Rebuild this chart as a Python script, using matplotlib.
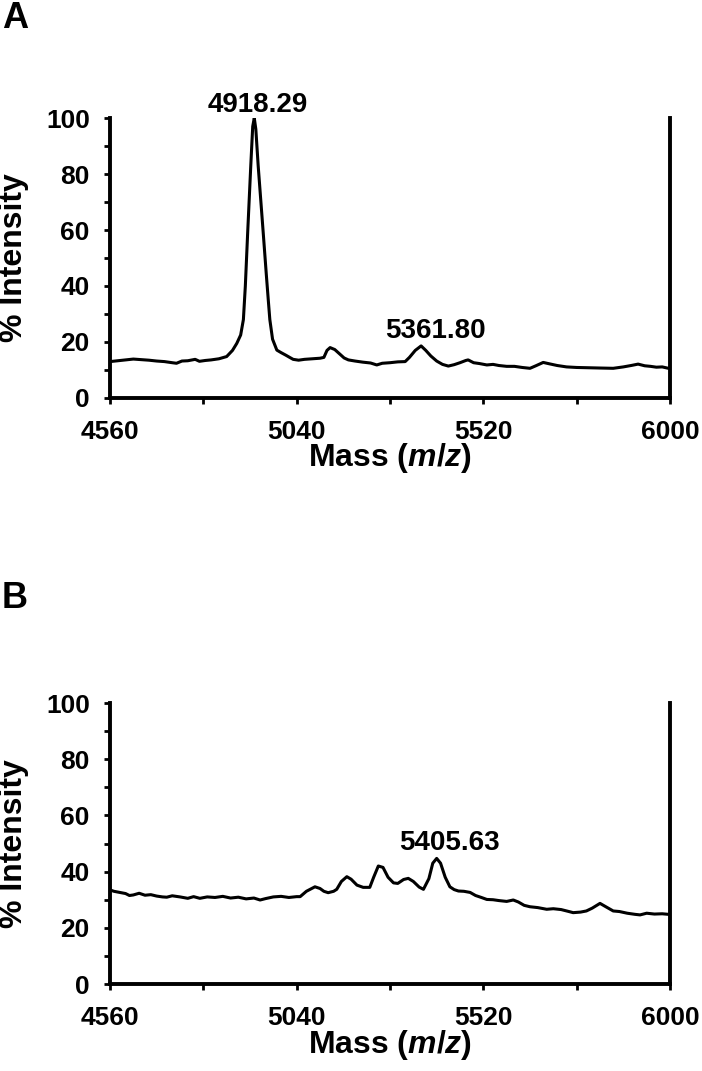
import matplotlib
matplotlib.use("Agg")
import matplotlib.pyplot as plt
from matplotlib.ticker import FixedLocator

# Fonts: Arial-like bold everywhere, italic m/z via mathtext
plt.rcParams['font.family'] = ['Liberation Sans', 'DejaVu Sans']
plt.rcParams['font.weight'] = 'bold'
plt.rcParams['mathtext.fontset'] = 'custom'
plt.rcParams['mathtext.rm'] = 'Liberation Sans:bold'
plt.rcParams['mathtext.it'] = 'Liberation Sans:bold:italic'

# Axis ticks
x_major = [4560, 5040, 5520, 6000]
x_minor = [4800, 5280, 5760]
y_major = [0, 20, 40, 60, 80, 100]
y_minor = [10, 30, 50, 70, 90]

# Panel A spectrum (m/z, % intensity)
mass_a = [4560, 4580, 4600, 4620, 4640, 4660, 4680, 4700, 4720, 4731,
          4745, 4760, 4779, 4790, 4805, 4820, 4840, 4860, 4875, 4886,
          4896, 4903, 4908, 4914, 4922, 4927, 4931, 4935, 4941, 4954,
          4962, 4967, 4971, 4978, 4989, 5000, 5012, 5022, 5031, 5045,
          5060, 5080, 5100, 5110, 5118, 5126, 5138, 5150, 5162, 5173,
          5190, 5210, 5230, 5246, 5260, 5280, 5300, 5319, 5330, 5345,
          5360, 5372, 5385, 5400, 5415, 5430, 5445, 5460, 5475, 5481,
          5495, 5510, 5529, 5545, 5560, 5580, 5600, 5620, 5640, 5655,
          5674, 5690, 5710, 5734, 5760, 5790, 5820, 5854, 5880, 5900,
          5918, 5935, 5950, 5965, 5980, 5996, 6000]
int_a = [13.0, 13.3, 13.6, 13.9, 13.7, 13.5, 13.2, 13.0, 12.6, 12.4,
         13.2, 13.3, 13.8, 13.1, 13.4, 13.6, 14.0, 14.8, 17.0, 19.5,
         22.5, 28.0, 40.0, 59.0, 83.0, 97.0, 100.0, 96.0, 83.0, 59.0,
         44.0, 35.0, 28.0, 21.0, 17.1, 16.2, 15.3, 14.5, 13.8, 13.5,
         13.8, 14.0, 14.2, 14.5, 17.0, 18.0, 17.3, 15.8, 14.3, 13.6,
         13.2, 12.8, 12.5, 11.8, 12.4, 12.6, 12.9, 13.0, 14.5, 17.0,
         18.6, 17.0, 15.0, 13.2, 12.0, 11.4, 11.9, 12.6, 13.4, 13.6,
         12.6, 12.3, 11.8, 12.0, 11.6, 11.3, 11.3, 10.9, 10.6, 11.5,
         12.7, 12.2, 11.6, 11.1, 10.9, 10.8, 10.7, 10.6, 11.1, 11.6,
         12.1, 11.5, 11.3, 11.0, 11.1, 10.6, 10.8]

# Panel B spectrum
mass_b = [4560, 4570, 4585, 4600, 4610, 4620, 4635, 4650, 4665, 4680,
          4695, 4706, 4720, 4740, 4760, 4775, 4791, 4810, 4830, 4850,
          4870, 4890, 4910, 4930, 4946, 4960, 4980, 5000, 5020, 5040,
          5049, 5065, 5087, 5100, 5110, 5121, 5135, 5143, 5155, 5169,
          5180, 5195, 5211, 5228, 5238, 5250, 5262, 5275, 5289, 5300,
          5315, 5327, 5340, 5355, 5366, 5380, 5390, 5400, 5410, 5422,
          5434, 5445, 5456, 5470, 5486, 5500, 5515, 5529, 5545, 5560,
          5580, 5597, 5610, 5625, 5640, 5660, 5683, 5700, 5720, 5740,
          5751, 5770, 5785, 5800, 5820, 5835, 5854, 5870, 5890, 5910,
          5923, 5940, 5960, 5980, 5996, 6000]
int_b = [33.5, 33.0, 32.6, 32.2, 31.5, 31.7, 32.3, 31.6, 31.8, 31.3,
         31.0, 30.9, 31.4, 31.0, 30.5, 31.1, 30.5, 31.0, 30.8, 31.2,
         30.6, 30.9, 30.3, 30.6, 29.9, 30.4, 31.0, 31.2, 30.8, 31.1,
         31.1, 33.0, 34.6, 34.0, 33.0, 32.5, 33.0, 33.7, 36.5, 38.2,
         37.3, 35.2, 34.4, 34.4, 38.0, 42.0, 41.5, 38.0, 36.0, 35.8,
         37.2, 37.6, 36.5, 34.5, 33.7, 37.5, 43.0, 44.7, 43.0, 38.0,
         34.6, 33.6, 33.1, 33.0, 32.6, 31.5, 30.8, 30.1, 30.0, 29.7,
         29.4, 29.9, 29.2, 28.0, 27.5, 27.2, 26.6, 26.8, 26.5, 25.8,
         25.4, 25.6, 26.0, 27.0, 28.7, 27.5, 26.0, 25.8, 25.2, 24.8,
         24.6, 25.2, 24.9, 25.0, 24.8, 24.9]

# Peak annotations: (text, x, y)
peaks_a = [("4918.29", 4940, 102.0), ("5361.80", 5396, 21.4)]
peaks_b = [("5405.63", 5433, 47.7)]

panels = [
    ("A", mass_a, int_a, peaks_a, [0.1567, 0.6284, 0.7977, 0.2614], 1 - 28 / 1071),
    ("B", mass_b, int_b, peaks_b, [0.1567, 0.0812, 0.7977, 0.2624], 1 - 608 / 1071),
]

fig = plt.figure(figsize=(7.02, 10.71), dpi=100)

for letter, mass, inten, peaks, rect, letter_y in panels:
    ax = fig.add_axes(rect)
    ax.plot(mass, inten, color='black', lw=2.2, solid_joinstyle='round')

    ax.set_xlim(4560, 6000)
    ax.set_ylim(0, 100)
    ax.xaxis.set_major_locator(FixedLocator(x_major))
    ax.xaxis.set_minor_locator(FixedLocator(x_minor))
    ax.yaxis.set_major_locator(FixedLocator(y_major))
    ax.yaxis.set_minor_locator(FixedLocator(y_minor))

    # open-top box: left, bottom and right spines
    ax.spines['top'].set_visible(False)
    for side in ['left', 'bottom', 'right']:
        ax.spines[side].set_linewidth(2.8)

    ax.tick_params(which='both', direction='out', length=4.5, width=2.0,
                   right=False, top=False)
    ax.tick_params(axis='x', which='major', labelsize=19, pad=11)
    ax.tick_params(axis='y', which='major', labelsize=19, pad=10)

    ax.set_xlabel('Mass ($\\mathit{m/z}$)', fontsize=23, fontweight='bold')
    ax.set_ylabel('% Intensity', fontsize=23, fontweight='bold')
    ax.xaxis.set_label_coords(0.5, -0.155)
    ax.yaxis.set_label_coords(-0.144, 0.5)

    for txt, px, py in peaks:
        ax.text(px, py, txt, ha='center', va='baseline', fontsize=20,
                fontweight='bold', clip_on=False)

    fig.text(0.003, letter_y, letter, fontsize=26, fontweight='bold',
             ha='left', va='baseline')

plt.savefig("out.png", dpi=100)
